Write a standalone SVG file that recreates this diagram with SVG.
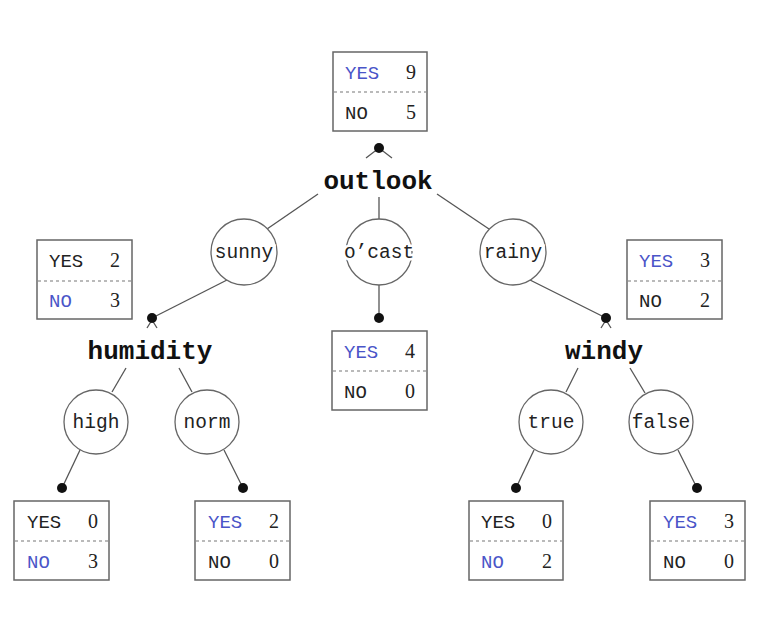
<svg xmlns="http://www.w3.org/2000/svg" width="780" height="636" viewBox="0 0 780 636">
<style>
.box{fill:#fff;stroke:#666;stroke-width:1.5}
.dash{stroke:#777;stroke-width:1.2;stroke-dasharray:3 3}
.lab{font-family:"Liberation Mono",monospace;font-size:19px;fill:#222}
.blue{fill:#4a55c8}
.num{font-family:"Liberation Serif",serif;font-size:20px;fill:#222;text-anchor:end}
.val{fill:#fff;stroke:#666;stroke-width:1.3}
.vt{font-family:"Liberation Mono",monospace;font-size:19.5px;fill:#222;text-anchor:middle;stroke:#fff;stroke-width:5;paint-order:stroke}
.attr{font-family:"Liberation Mono",monospace;font-size:26px;font-weight:bold;fill:#111;text-anchor:middle}
.ln{stroke:#555;stroke-width:1.3;fill:none}
.dot{fill:#111}
</style>
<g id="connectors">
<line class="ln" x1="318" y1="194" x2="267" y2="229"/>
<line class="ln" x1="379" y1="197" x2="379" y2="219"/>
<line class="ln" x1="437" y1="194" x2="489" y2="229"/>
<line class="ln" x1="227" y1="280" x2="152" y2="318"/>
<line class="ln" x1="379" y1="285" x2="379" y2="318"/>
<line class="ln" x1="530" y1="280" x2="606" y2="318"/>
<line class="ln" x1="126" y1="368" x2="112" y2="392"/>
<line class="ln" x1="179" y1="368" x2="192" y2="392"/>
<line class="ln" x1="578" y1="368" x2="566" y2="392"/>
<line class="ln" x1="630" y1="368" x2="645" y2="393"/>
<line class="ln" x1="80" y1="450" x2="62" y2="488"/>
<line class="ln" x1="224" y1="450" x2="243" y2="488"/>
<line class="ln" x1="534" y1="450" x2="516" y2="488"/>
<line class="ln" x1="678" y1="450" x2="697" y2="488"/>
<polyline class="ln" points="366,158 379,148 392,158"/>
<polyline class="ln" points="147,328 152,320 157,328"/>
<polyline class="ln" points="601,328 606,320 611,328"/>
<circle class="dot" cx="379" cy="148" r="5"/>
<circle class="dot" cx="152" cy="318" r="5"/>
<circle class="dot" cx="606" cy="318" r="5"/>
<circle class="dot" cx="379" cy="318" r="5"/>
<circle class="dot" cx="62" cy="488" r="5"/>
<circle class="dot" cx="243" cy="488" r="5"/>
<circle class="dot" cx="516" cy="488" r="5"/>
<circle class="dot" cx="697" cy="488" r="5"/>
</g>
<g id="box-root"><rect class="box" x="333" y="52" width="94" height="79"/><line class="dash" x1="334" y1="92" x2="426" y2="92"/><text class="lab blue" x="345" y="79">YES</text><text class="num" x="416" y="79">9</text><text class="lab" x="345" y="119">NO</text><text class="num" x="416" y="119">5</text></g>
<g id="outlook"><text class="attr" x="378" y="189">outlook</text></g>
<g id="sunny"><circle class="val" cx="244" cy="252" r="33"/><text class="vt" x="244" y="258">sunny</text></g>
<g id="ocast"><circle class="val" cx="379" cy="252" r="33"/><text class="vt" x="379" y="258">o’cast</text></g>
<g id="rainy"><circle class="val" cx="513" cy="252" r="33"/><text class="vt" x="513" y="258">rainy</text></g>
<g id="box-sunny"><rect class="box" x="37" y="240" width="95" height="79"/><line class="dash" x1="38" y1="281" x2="131" y2="281"/><text class="lab" x="49" y="267">YES</text><text class="num" x="120" y="267">2</text><text class="lab blue" x="49" y="307">NO</text><text class="num" x="120" y="307">3</text></g>
<g id="box-rainy"><rect class="box" x="627" y="240" width="95" height="79"/><line class="dash" x1="628" y1="281" x2="721" y2="281"/><text class="lab blue" x="639" y="267">YES</text><text class="num" x="710" y="267">3</text><text class="lab" x="639" y="307">NO</text><text class="num" x="710" y="307">2</text></g>
<g id="box-ocast"><rect class="box" x="332" y="331" width="95" height="79"/><line class="dash" x1="333" y1="371" x2="426" y2="371"/><text class="lab blue" x="344" y="358">YES</text><text class="num" x="415" y="358">4</text><text class="lab" x="344" y="398">NO</text><text class="num" x="415" y="398">0</text></g>
<g id="humidity"><text class="attr" x="150" y="359">humidity</text></g>
<g id="windy"><text class="attr" x="604" y="359">windy</text></g>
<g id="high"><circle class="val" cx="96" cy="422" r="32"/><text class="vt" x="96" y="428">high</text></g>
<g id="norm"><circle class="val" cx="207" cy="422" r="32"/><text class="vt" x="207" y="428">norm</text></g>
<g id="true"><circle class="val" cx="551" cy="422" r="32"/><text class="vt" x="551" y="428">true</text></g>
<g id="false"><circle class="val" cx="661" cy="422" r="32"/><text class="vt" x="661" y="428">false</text></g>
<g id="box-high"><rect class="box" x="14" y="501" width="95" height="79"/><line class="dash" x1="15" y1="541" x2="108" y2="541"/><text class="lab" x="27" y="528">YES</text><text class="num" x="98" y="528">0</text><text class="lab blue" x="27" y="568">NO</text><text class="num" x="98" y="568">3</text></g>
<g id="box-norm"><rect class="box" x="195" y="501" width="95" height="79"/><line class="dash" x1="196" y1="541" x2="289" y2="541"/><text class="lab blue" x="208" y="528">YES</text><text class="num" x="279" y="528">2</text><text class="lab" x="208" y="568">NO</text><text class="num" x="279" y="568">0</text></g>
<g id="box-true"><rect class="box" x="469" y="501" width="94" height="79"/><line class="dash" x1="470" y1="541" x2="562" y2="541"/><text class="lab" x="481" y="528">YES</text><text class="num" x="552" y="528">0</text><text class="lab blue" x="481" y="568">NO</text><text class="num" x="552" y="568">2</text></g>
<g id="box-false"><rect class="box" x="650" y="501" width="95" height="79"/><line class="dash" x1="651" y1="541" x2="744" y2="541"/><text class="lab blue" x="663" y="528">YES</text><text class="num" x="734" y="528">3</text><text class="lab" x="663" y="568">NO</text><text class="num" x="734" y="568">0</text></g>
</svg>
